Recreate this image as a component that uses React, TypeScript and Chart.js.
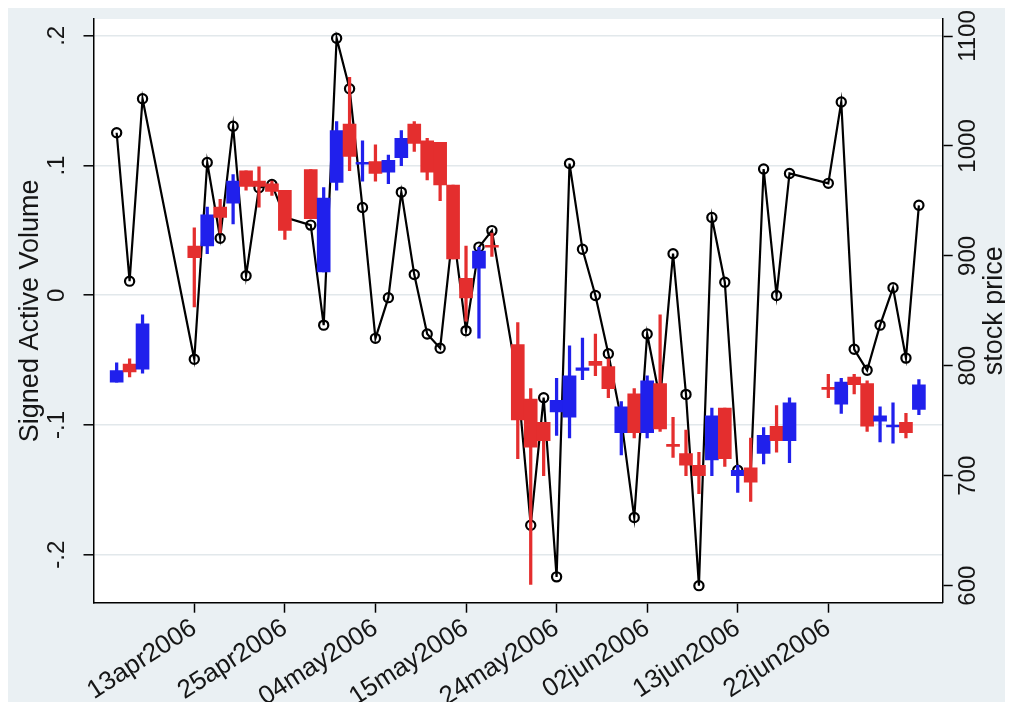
import React, { useEffect, useRef } from "react";
import { Chart, registerables } from "chart.js";
Chart.register(...registerables);

// Trading-day index (0 = 13apr2006), one entry per observation slot
const tradingDay = [
  -6, -5, -4, -3, -2, -1, 0, 1, 2, 3, 4, 5, 6, 7, 8, 9, 10, 11, 12, 13, 14,
  15, 16, 17, 18, 19, 20, 21, 22, 23, 24, 25, 26, 27, 28, 29, 30, 31, 32, 33,
  34, 35, 36, 37, 38, 39, 40, 41, 42, 43, 44, 45, 46, 47, 48, 49, 50, 51, 52,
  53, 54, 55, 56,
];

// Signed Active Volume candles (open / high / low / close)
const openVals = [
  -0.067, -0.053, -0.057, null, null, null, 0.038, 0.038, 0.068, 0.071, 0.096,
  0.088, 0.086, 0.081, null, 0.097, 0.018, 0.087, 0.132, 0.101, 0.103, 0.095,
  0.106, 0.132, 0.119, 0.118, 0.085, 0.013, 0.021, 0.038, null, -0.038, -0.08,
  -0.098, -0.09, -0.094, -0.058, -0.051, -0.055, -0.106, -0.076, -0.106,
  -0.068, -0.115, -0.122, -0.131, -0.127, -0.087, -0.139, -0.133, -0.122,
  -0.101, -0.112, null, null, -0.071, -0.084, -0.063, -0.068, -0.097, -0.101,
  -0.098, -0.088,
];
const highVals = [
  -0.052, -0.049, -0.015, null, null, null, 0.052, 0.068, 0.074, 0.093, 0.096,
  0.099, 0.088, 0.081, null, 0.097, 0.083, 0.134, 0.168, 0.119, 0.116, 0.108,
  0.127, 0.134, 0.121, 0.118, 0.085, 0.038, 0.037, 0.048, null, -0.021, -0.072,
  -0.098, -0.064, -0.039, -0.033, -0.03, -0.049, -0.082, -0.072, -0.062,
  -0.015, -0.094, -0.104, -0.121, -0.087, -0.087, -0.131, -0.11, -0.102,
  -0.085, -0.079, null, null, -0.061, -0.064, -0.061, -0.066, -0.086, -0.083,
  -0.091, -0.065,
];
const lowVals = [
  -0.067, -0.063, -0.06, null, null, null, -0.009, 0.032, 0.048, 0.055, 0.081,
  0.068, 0.077, 0.043, null, 0.059, 0.018, 0.081, 0.096, 0.088, 0.088, 0.086,
  0.1, 0.111, 0.089, 0.073, 0.028, -0.02, -0.033, 0.03, null, -0.126, -0.223,
  -0.139, -0.108, -0.11, -0.065, -0.062, -0.079, -0.123, -0.11, -0.11, -0.105,
  -0.125, -0.139, -0.153, -0.139, -0.132, -0.152, -0.159, -0.13, -0.121,
  -0.129, null, null, -0.079, -0.091, -0.076, -0.105, -0.113, -0.114, -0.11,
  -0.092,
];
const closeVals = [
  -0.058, -0.059, -0.022, null, null, null, 0.029, 0.062, 0.06, 0.088, 0.084,
  0.084, 0.08, 0.05, null, 0.059, 0.075, 0.127, 0.107, 0.102, 0.094, 0.104,
  0.121, 0.117, 0.095, 0.085, 0.028, -0.002, 0.034, 0.037, null, -0.096,
  -0.117, -0.112, -0.081, -0.062, -0.056, -0.054, -0.072, -0.086, -0.106,
  -0.066, -0.103, -0.116, -0.131, -0.139, -0.093, -0.126, -0.135, -0.144,
  -0.108, -0.112, -0.083, null, null, -0.072, -0.067, -0.069, -0.101, -0.093,
  -0.1, -0.106, -0.069,
];

// Stock price (right axis)
const stockPrice = [
  1012, 877, 1043, null, null, null, 806, 985, 916, 1018, 882, 962, 965, 935,
  null, 928, 837, 1098, 1052, 944, 825, 862, 958, 883, 829, 816, 924, 832, 908,
  923, null, 785, 655, 771, 608, 984, 906, 864, 811, 751, 662, 829, 769, 902,
  774, 600, 935, 876, 705, 701, 979, 864, 975, null, null, 966, 1040, 815, 796,
  837, 871, 807, 946,
];

const xTickDays = [0, 7, 14, 21, 28, 35, 42, 49];
const xTickLabels = [
  "13apr2006", "25apr2006", "04may2006", "15may2006",
  "24may2006", "02jun2006", "13jun2006", "22jun2006",
];
const leftTicks = [-0.2, -0.1, 0, 0.1, 0.2];
const leftTickLabels = ["-.2", "-.1", "0", ".1", ".2"];
const rightTicks = [600, 700, 800, 900, 1000, 1100];
const rightTickLabels = ["600", "700", "800", "900", "1000", "1100"];
const leftTitle = "Signed Active Volume";
const rightTitle = "stock price";

const FONT = "'Liberation Sans', Arial, Helvetica, sans-serif";
const BG = "rgb(234,240,243)";
const GRID = "rgb(226,232,235)";
const RED = "rgb(228,46,46)";
const BLUE = "rgb(32,32,236)";
const TEXT = "#161616";

const stataPlugin = {
  id: "stataDecor",
  beforeDraw(chart: any) {
    const { ctx, chartArea: a, width, height } = chart;
    ctx.save();
    ctx.fillStyle = BG;
    ctx.fillRect(0, 0, width, height);
    ctx.fillStyle = "#ffffff";
    ctx.fillRect(a.left, a.top, a.right - a.left, a.bottom - a.top);
    ctx.restore();
  },
  afterDraw(chart: any) {
    const { ctx, chartArea: a, scales } = chart;
    const vt = (text: string, x: number, y: number, size: number) => {
      ctx.save();
      ctx.translate(x, y);
      ctx.rotate(-Math.PI / 2);
      ctx.font = `${size}px ${FONT}`;
      ctx.fillStyle = TEXT;
      ctx.textAlign = "center";
      ctx.textBaseline = "middle";
      ctx.fillText(text, 0, 0);
      ctx.restore();
    };
    leftTicks.forEach((v, i) =>
      vt(leftTickLabels[i], a.left - 36, scales.y.getPixelForValue(v), 24)
    );
    rightTicks.forEach((v, i) =>
      vt(rightTickLabels[i], a.right + 26, scales.y2.getPixelForValue(v), 24)
    );
    const mid = (a.top + a.bottom) / 2;
    vt(leftTitle, a.left - 63, mid, 27);
    vt(rightTitle, a.right + 52, mid, 27);
  },
};

export default function App() {
  const ref = useRef<HTMLCanvasElement | null>(null);
  useEffect(() => {
    document.body.style.overflow = "hidden";
    const candleIdx = tradingDay
      .map((_, i) => i)
      .filter((i) => openVals[i] !== null && closeVals[i] !== null);
    const colorOf = (i: number) =>
      (closeVals[i] as number) >= (openVals[i] as number) ? BLUE : RED;
    const bodies = candleIdx.map((i) => ({
      x: tradingDay[i],
      y: [
        Math.min(openVals[i] as number, closeVals[i] as number),
        Math.max(openVals[i] as number, closeVals[i] as number),
      ],
    }));
    const wicks = candleIdx.map((i) => ({
      x: tradingDay[i],
      y: [lowVals[i] as number, highVals[i] as number],
    }));
    const colors = candleIdx.map(colorOf);
    const priceData = tradingDay.map((d, i) => ({ x: d, y: stockPrice[i] }));

    const chart = new Chart(ref.current as HTMLCanvasElement, {
      type: "bar",
      data: {
        datasets: [
          {
            type: "bar",
            label: "body",
            data: bodies as any,
            backgroundColor: colors,
            borderWidth: 0,
            barThickness: 13,
            minBarLength: 2,
            grouped: false,
            yAxisID: "y",
            xAxisID: "x",
            order: 0,
          } as any,
          {
            type: "bar",
            label: "wick",
            data: wicks as any,
            backgroundColor: colors,
            borderWidth: 0,
            barThickness: 2.6,
            grouped: false,
            yAxisID: "y",
            xAxisID: "x",
            order: 1,
          } as any,
          {
            type: "line",
            label: "stock price",
            data: priceData as any,
            yAxisID: "y2",
            xAxisID: "x",
            spanGaps: true,
            borderColor: "#000",
            borderWidth: 2.2,
            tension: 0,
            pointRadius: 4.6,
            pointBorderWidth: 2.2,
            pointBorderColor: "#000",
            pointBackgroundColor: "rgba(0,0,0,0)",
            order: 2,
          } as any,
        ],
      },
      options: {
        animation: false,
        responsive: true,
        maintainAspectRatio: false,
        layout: { padding: { top: 11, left: 0, right: 0, bottom: 0 } },
        plugins: { legend: { display: false }, tooltip: { enabled: false } },
        scales: {
          x: {
            type: "linear",
            position: "bottom",
            min: -7.79,
            max: 57.84,
            bounds: "data",
            offset: false,
            afterBuildTicks: (s: any) => {
              s.ticks = xTickDays.map((v) => ({ value: v }));
            },
            ticks: {
              autoSkip: false,
              minRotation: 33,
              maxRotation: 33,
              padding: 0,
              color: TEXT,
              font: { family: FONT, size: 26 },
              callback: (v: any) => {
                const k = xTickDays.indexOf(Number(v));
                return k >= 0 ? xTickLabels[k] : "";
              },
            },
            grid: {
              offset: false,
              drawOnChartArea: false,
              drawTicks: true,
              tickLength: 10,
              tickColor: "#000",
              tickWidth: 1.5,
            },
            border: { color: "#000", width: 1.5 },
            afterFit: (s: any) => {
              s.height = 99.3;
            },
          } as any,
          y: {
            type: "linear",
            position: "left",
            min: -0.237,
            max: 0.213,
            afterBuildTicks: (s: any) => {
              s.ticks = leftTicks.map((v) => ({ value: v }));
            },
            ticks: { display: false },
            grid: {
              color: GRID,
              lineWidth: 1.6,
              drawTicks: true,
              tickLength: 10,
              tickColor: "#000",
              tickWidth: 1.5,
            },
            border: { color: "#000", width: 1.5 },
            afterFit: (s: any) => {
              s.width = 85.5;
            },
          } as any,
          y2: {
            type: "linear",
            position: "right",
            min: 584.5,
            max: 1115.5,
            afterBuildTicks: (s: any) => {
              s.ticks = rightTicks.map((v) => ({ value: v }));
            },
            ticks: { display: false },
            grid: {
              drawOnChartArea: false,
              drawTicks: true,
              tickLength: 10,
              tickColor: "#000",
              tickWidth: 1.5,
            },
            border: { color: "#000", width: 1.5 },
            afterFit: (s: any) => {
              s.width = 70.3;
            },
          } as any,
        },
      },
      plugins: [stataPlugin],
    });
    return () => chart.destroy();
  }, []);

  return (
    <div style={{ position: "relative", width: 1005, height: 694 }}>
      <canvas ref={ref} />
    </div>
  );
}
